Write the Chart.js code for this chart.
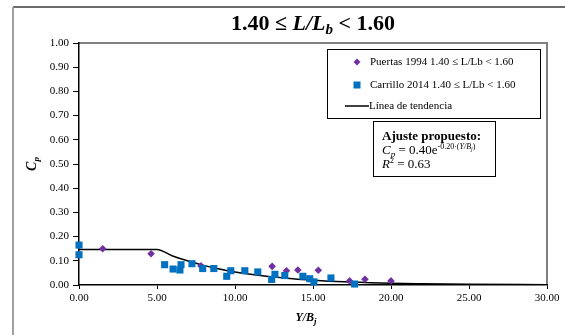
<!DOCTYPE html>
<html>
<head>
<meta charset="utf-8">
<script src="https://cdn.jsdelivr.net/npm/chart.js@4/dist/chart.umd.min.js"></script>
<style>
  html, body { margin: 0; padding: 0; background: #fff; }
  canvas { display: block; }
</style>
</head>
<body>
<canvas id="c" width="565" height="335"></canvas>
<script>
// Puertas 1994 measurements (Y/Bj, Cp)
const puertasX = [1.52, 4.62, 7.82, 12.38, 13.30, 14.03, 15.34, 17.35, 18.33, 20.00];
const puertasY = [0.150, 0.129, 0.079, 0.077, 0.059, 0.062, 0.061, 0.017, 0.024, 0.017];

// Carrillo 2014 measurements (Y/Bj, Cp)
const carrilloX = [0.00, 0.00, 5.49, 6.03, 6.47, 6.54, 7.24, 7.93, 8.64, 9.47, 9.73, 10.63, 11.46, 12.35, 12.56, 13.19, 14.35, 14.79, 15.06, 16.15, 17.67];
const carrilloY = [0.165, 0.125, 0.084, 0.066, 0.062, 0.084, 0.088, 0.068, 0.068, 0.036, 0.059, 0.059, 0.054, 0.023, 0.044, 0.039, 0.036, 0.026, 0.013, 0.029, 0.004];

// Trend line: plateau up to Y/Bj = 5, then the proposed exponential decay
const trendX = [0, 5, 6, 7, 8, 9, 10, 11, 12, 13, 14, 15, 16, 17, 18, 20, 22, 25, 30];
const trendY = [0.147, 0.147, 0.120, 0.099, 0.081, 0.066, 0.054, 0.044, 0.036, 0.030, 0.024, 0.020, 0.016, 0.013, 0.011, 0.007, 0.005, 0.003, 0.001];

// Axis ticks
const xTicks = [0, 5, 10, 15, 20, 25, 30];
const yTicks = [0, 0.1, 0.2, 0.3, 0.4, 0.5, 0.6, 0.7, 0.8, 0.9, 1.0];

const seriesNames = ['Puertas 1994 1.40 \u2264 L/Lb < 1.60', 'Carrillo 2014 1.40 \u2264 L/Lb < 1.60', 'L\u00ednea de tendencia'];
const PURPLE = '#7030A0';
const BLUE = '#0070C0';
const SERIF = '"Liberation Serif", "Times New Roman", serif';

const toPoints = (xs, ys) => xs.map((x, i) => ({ x, y: ys[i] }));

// Draw a sequence of text runs, each with its own font and vertical shift
function drawRuns(ctx, x, y, runs, align) {
  let total = 0;
  runs.forEach(r => { ctx.font = r.font; total += ctx.measureText(r.t).width; });
  let cx = align === 'center' ? x - total / 2 : x;
  ctx.textAlign = 'left';
  ctx.textBaseline = 'alphabetic';
  runs.forEach(r => {
    ctx.font = r.font;
    ctx.fillText(r.t, cx, y + (r.dy || 0));
    cx += ctx.measureText(r.t).width;
  });
}

const decorations = {
  id: 'decorations',
  beforeDraw(chart) {
    const ctx = chart.ctx;
    const a = chart.chartArea;
    ctx.save();
    ctx.fillStyle = '#fff';
    ctx.fillRect(0, 0, chart.width, chart.height);
    // outer frame
    ctx.strokeStyle = '#3a3a3a';
    ctx.lineWidth = 1.5;
    ctx.beginPath(); ctx.moveTo(13, 7); ctx.lineTo(565, 7); ctx.stroke();
    ctx.strokeStyle = '#a0a0a0';
    ctx.lineWidth = 2;
    ctx.beginPath(); ctx.moveTo(13, 7); ctx.lineTo(13, 335); ctx.stroke();
    // plot frame (top and right)
    ctx.strokeStyle = '#808080';
    ctx.lineWidth = 2;
    ctx.beginPath();
    ctx.moveTo(a.left, a.top); ctx.lineTo(a.right, a.top); ctx.lineTo(a.right, a.bottom);
    ctx.stroke();
    ctx.restore();
  },
  afterDraw(chart) {
    const ctx = chart.ctx;
    const a = chart.chartArea;
    ctx.save();
    ctx.fillStyle = '#000';

    // title
    drawRuns(ctx, 313, 30, [
      { t: '1.40 \u2264 ', font: 'bold 22px ' + SERIF },
      { t: 'L/L', font: 'italic bold 22px ' + SERIF },
      { t: 'b', font: 'italic bold 15px ' + SERIF, dy: 4 },
      { t: ' < 1.60', font: 'bold 22px ' + SERIF }
    ], 'center');

    // x axis title
    drawRuns(ctx, 306, 321, [
      { t: 'Y/B', font: 'italic bold 12px ' + SERIF },
      { t: 'j', font: 'italic bold 9px ' + SERIF, dy: 3 }
    ], 'center');

    // y axis title (rotated)
    ctx.save();
    ctx.translate(36, (a.top + a.bottom) / 2);
    ctx.rotate(-Math.PI / 2);
    drawRuns(ctx, 0, 0, [
      { t: 'C', font: 'italic bold 14px ' + SERIF },
      { t: 'p', font: 'italic bold 9px ' + SERIF, dy: 3 }
    ], 'center');
    ctx.restore();

    // legend box
    ctx.fillStyle = '#fff';
    ctx.fillRect(327, 49, 213, 69);
    ctx.strokeStyle = '#000';
    ctx.lineWidth = 1;
    ctx.strokeRect(327.5, 49.5, 213, 69);
    ctx.font = '11px ' + SERIF;
    ctx.textBaseline = 'middle';
    ctx.textAlign = 'left';
    // diamond marker
    ctx.fillStyle = PURPLE;
    ctx.beginPath();
    ctx.moveTo(357, 58.5); ctx.lineTo(360.5, 62); ctx.lineTo(357, 65.5); ctx.lineTo(353.5, 62); ctx.closePath();
    ctx.fill();
    // square marker
    ctx.fillStyle = BLUE;
    ctx.fillRect(353.5, 81.5, 7, 7);
    // line marker
    ctx.strokeStyle = '#000';
    ctx.lineWidth = 1.5;
    ctx.beginPath(); ctx.moveTo(345, 106); ctx.lineTo(369, 106); ctx.stroke();
    ctx.fillStyle = '#000';
    ctx.fillText(seriesNames[0], 370, 62);
    ctx.fillText(seriesNames[1], 370, 85);
    ctx.fillText(seriesNames[2], 369, 106);

    // fitted equation box
    ctx.fillStyle = '#fff';
    ctx.fillRect(373, 121, 122, 55);
    ctx.strokeStyle = '#000';
    ctx.lineWidth = 1;
    ctx.strokeRect(373.5, 121.5, 122, 55);
    ctx.fillStyle = '#000';
    drawRuns(ctx, 382, 140, [{ t: 'Ajuste propuesto:', font: 'bold 13px ' + SERIF }]);
    drawRuns(ctx, 382, 154, [
      { t: 'C', font: 'italic 13px ' + SERIF },
      { t: 'p', font: 'italic 9px ' + SERIF, dy: 3 },
      { t: ' = 0.40e', font: '13px ' + SERIF },
      { t: '-0.20\u00b7(', font: '8px ' + SERIF, dy: -5 },
      { t: 'Y/B', font: 'italic 8px ' + SERIF, dy: -5 },
      { t: 'j', font: 'italic 6px ' + SERIF, dy: -3 },
      { t: ')', font: '8px ' + SERIF, dy: -5 }
    ]);
    drawRuns(ctx, 382, 168, [
      { t: 'R', font: 'italic 13px ' + SERIF },
      { t: '2', font: '8px ' + SERIF, dy: -5 },
      { t: ' = 0.63', font: '13px ' + SERIF }
    ]);
    ctx.restore();
  }
};

const tickFont = { family: SERIF, size: 11 };

new Chart(document.getElementById('c'), {
  type: 'scatter',
  data: {
    datasets: [
      {
        label: seriesNames[1],
        data: toPoints(carrilloX, carrilloY),
        pointStyle: 'rect',
        pointRadius: 5,
        backgroundColor: BLUE,
        borderColor: BLUE,
        borderWidth: 0,
        clip: false,
        order: 1
      },
      {
        label: seriesNames[0],
        data: toPoints(puertasX, puertasY),
        pointStyle: 'rectRot',
        pointRadius: 3.8,
        backgroundColor: PURPLE,
        borderColor: PURPLE,
        borderWidth: 0,
        clip: false,
        order: 2
      },
      {
        label: seriesNames[2],
        type: 'line',
        data: toPoints(trendX, trendY),
        showLine: true,
        borderColor: '#000',
        borderWidth: 1.5,
        pointRadius: 0,
        fill: false,
        cubicInterpolationMode: 'monotone',
        order: 3
      }
    ]
  },
  options: {
    responsive: false,
    animation: false,
    events: [],
    layout: { padding: { left: 0, top: 43, right: 18, bottom: 0 } },
    plugins: { legend: { display: false }, tooltip: { enabled: false }, title: { display: false } },
    scales: {
      x: {
        type: 'linear',
        min: 0, max: 30,
        afterBuildTicks: s => { s.ticks = xTicks.map(v => ({ value: v })); },
        afterFit: s => { s.height = 50; },
        ticks: { callback: v => Number(v).toFixed(2), font: tickFont, color: '#000', padding: 3, maxRotation: 0, autoSkip: false },
        grid: { drawOnChartArea: false, drawTicks: true, tickLength: 4, color: '#000', lineWidth: 1 },
        border: { display: true, color: '#000', width: 1.5 }
      },
      y: {
        type: 'linear',
        min: 0, max: 1,
        afterBuildTicks: s => { s.ticks = yTicks.map(v => ({ value: v })); },
        afterFit: s => { s.width = 79; },
        ticks: { callback: v => Number(v).toFixed(2), font: tickFont, color: '#000', padding: 4, autoSkip: false },
        grid: { drawOnChartArea: false, drawTicks: true, tickLength: 6, color: '#000', lineWidth: 1 },
        border: { display: true, color: '#000', width: 1.5 }
      }
    }
  },
  plugins: [decorations]
});
</script>
</body>
</html>
